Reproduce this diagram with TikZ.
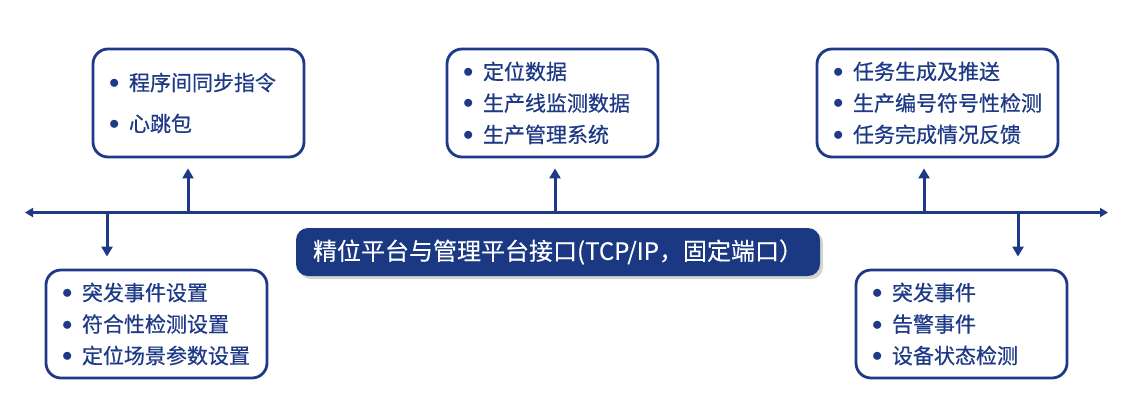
\documentclass[tikz,border=0pt]{standalone}
\usepackage{fontspec}
\newfontfamily\cjk[FakeBold=0.6]{Noto Sans CJK SC}
\newfontfamily\cjktitle[FakeBold=0.3]{Noto Sans CJK SC}
\usetikzlibrary{arrows.meta,shadows}

\definecolor{navy}{RGB}{30,58,135}
\definecolor{portblue}{RGB}{27,56,130}

\newcommand{\itm}[1]{\makebox[20pt][l]{\raisebox{2pt}{$\bullet$}}#1}

\tikzset{
  infobox/.style={draw=navy,line width=2.8pt,rounded corners=15pt,text=navy,
    font=\cjk\fontsize{21}{31.5}\selectfont,align=left,inner xsep=16pt,
    minimum height=108pt},
  portbox/.style={fill=portblue,rounded corners=12pt,text=white,
    font=\cjktitle\fontsize{24}{28}\selectfont,minimum width=524pt,minimum height=48pt,
    drop shadow={opacity=0.35,shadow xshift=3pt,shadow yshift=-3pt}},
  busline/.style={draw=navy,line width=2.2pt,{Triangle[width=9pt,length=8pt]}-{Triangle[width=9pt,length=8pt]}},
  feed/.style={draw=navy,line width=3pt,-{Triangle[width=11pt,length=10pt]}}
}

\begin{document}
\begin{tikzpicture}[x=1pt,y=-1pt]
  \useasboundingbox (0,0) rectangle (1130,400);

  % boxes above the bus
  \node[infobox,minimum width=211pt,text width=179pt] (sync) at (198.5,103)
    {\itm{程序间同步指令}\\[9.5pt]\itm{心跳包}};
  \node[infobox,minimum width=211pt,text width=179pt] (locdata) at (552.5,103)
    {\itm{定位数据}\\\itm{生产线监测数据}\\\itm{生产管理系统}};
  \node[infobox,minimum width=241pt,text width=209pt] (task) at (937.5,103)
    {\itm{任务生成及推送}\\\itm{生产编号符号性检测}\\\itm{任务完成情况反馈}};

  % boxes below the bus
  \node[infobox,minimum width=221pt,text width=189pt] (setup) at (156.5,324)
    {\itm{突发事件设置}\\\itm{符合性检测设置}\\\itm{定位场景参数设置}};
  \node[infobox,minimum width=211pt,text width=179pt] (event) at (961.5,324)
    {\itm{突发事件}\\\itm{告警事件}\\\itm{设备状态检测}};

  \node[portbox] (port) at (558,252) {精位平台与管理平台接口(TCP/IP，固定端口）};

  % bus and taps
  \coordinate (busL) at (25,212.5);
  \coordinate (busR) at (1108,212.5);
  \draw[busline] (busL) -- (busR);

  \coordinate (tapsync) at (188,212.5);
  \coordinate (taploc) at (555,212.5);
  \coordinate (taptask) at (924,212.5);
  \coordinate (tapsetup) at (107,212.5);
  \coordinate (tapevent) at (1018,212.5);

  \draw[feed,shorten >=10pt] (tapsync) -- (tapsync |- sync.south);
  \draw[feed,shorten >=10pt] (taploc) -- (taploc |- locdata.south);
  \draw[feed,shorten >=10pt] (taptask) -- (taptask |- task.south);
  \draw[feed,shorten >=12pt] (tapsetup) -- (tapsetup |- setup.north);
  \draw[feed,shorten >=12pt] (tapevent) -- (tapevent |- event.north);
\end{tikzpicture}
\end{document}
